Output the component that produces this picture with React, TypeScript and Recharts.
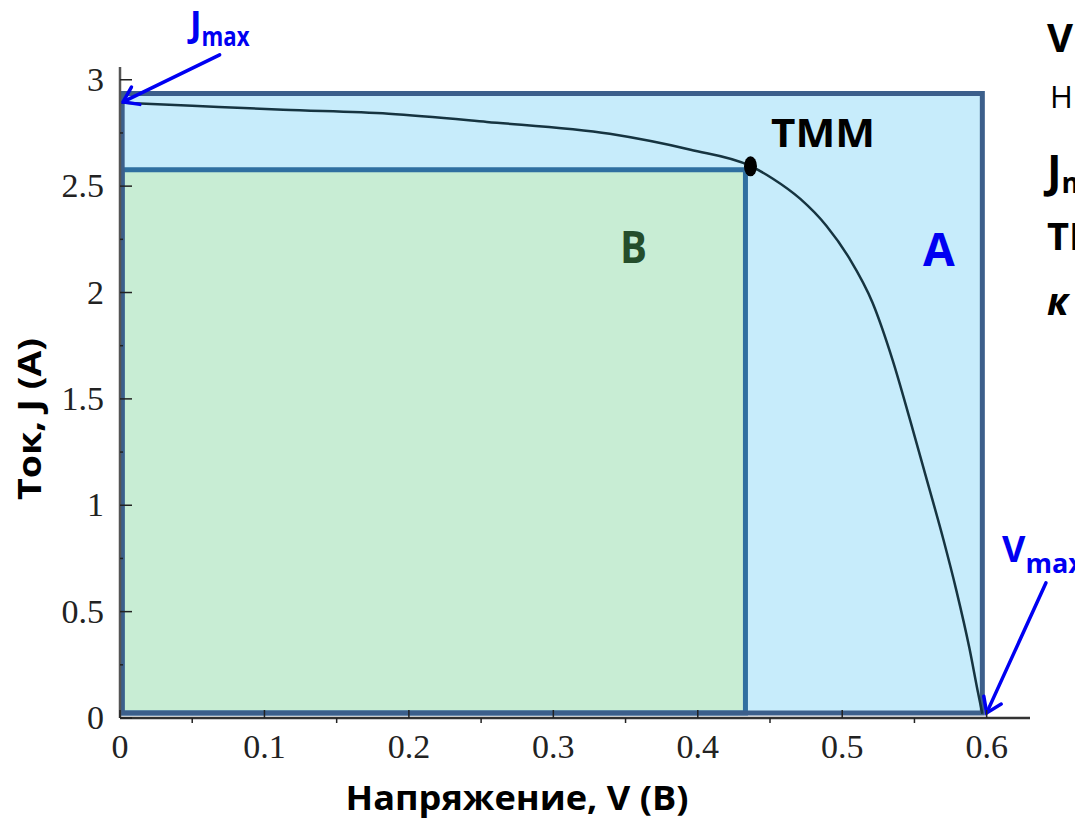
import { LineChart, Line, XAxis, YAxis, ReferenceArea, ReferenceLine, ReferenceDot } from "recharts";

// I–V curve of the cell
const VOLT = [0, 0.05, 0.113, 0.186, 0.254, 0.339, 0.395, 0.436, 0.452, 0.471, 0.489, 0.505, 0.521, 0.535, 0.547, 0.558, 0.57, 0.579, 0.588, 0.594, 0.597];
const CURR = [2.893, 2.878, 2.859, 2.84, 2.802, 2.746, 2.671, 2.596, 2.535, 2.44, 2.314, 2.16, 1.952, 1.68, 1.4, 1.133, 0.84, 0.6, 0.33, 0.12, 0.02];

// rectangles A (Jmax x Vmax) and B (maximum power)
const BOX_A = { v1: 0.0015, v2: 0.597, j1: 0.024, j2: 2.936 };
const BOX_B = { v1: 0.0015, v2: 0.433, j1: 0.024, j2: 2.577 };
const MPP = { v: 0.4365, j: 2.593 };

// arrows: [tail, tip]
const ARROW_J = [{ x: 0.069, y: 3.117 }, { x: 0.0021, y: 2.896 }];
const ARROW_V = [{ x: 0.641, y: 0.635 }, { x: 0.6, y: 0.024 }];

const XTICKS = [0, 0.05, 0.1, 0.15, 0.2, 0.25, 0.3, 0.35, 0.4, 0.45, 0.5, 0.55, 0.6];
const YTICKS = [0, 0.25, 0.5, 0.75, 1, 1.25, 1.5, 1.75, 2, 2.25, 2.5, 2.75, 3];

const data = VOLT.map((v, i) => ({ v, j: CURR[i] }));

const SERIF = "'Liberation Serif', 'DejaVu Serif', serif";
const SANS = "'Open Sans', 'Noto Sans', sans-serif";
const BLUE = "#0000f2";

const isStep = (v: number, step: number) => Math.abs(v / step - Math.round(v / step)) < 1e-6;

function XTick(props: any) {
  const { x, y, payload } = props;
  const major = isStep(payload.value, 0.1);
  return (
    <g>
      <line x1={x} x2={x} y1={y} y2={major ? y - 8 : y + 5} stroke="#222" strokeWidth={1.5} />
      {major && (
        <text x={x} y={y + 40} textAnchor="middle" fontFamily={SERIF} fontSize={34} fill="#222">
          {String(payload.value)}
        </text>
      )}
    </g>
  );
}

function YTick(props: any) {
  const { x, y, payload } = props;
  const major = isStep(payload.value, 0.5);
  return (
    <g>
      <line x1={x} x2={x + (major ? 12 : 3)} y1={y} y2={y} stroke="#222" strokeWidth={1.5} />
      {major && (
        <text x={x - 16} y={y + 11} textAnchor="end" fontFamily={SERIF} fontSize={34} fill="#222">
          {String(payload.value)}
        </text>
      )}
    </g>
  );
}

function Arrow(props: any) {
  const { x1, y1, x2, y2 } = props;
  const a = Math.atan2(y1 - y2, x1 - x2);
  const L = 17;
  const s = 0.6;
  return (
    <g stroke={BLUE} strokeWidth={3.5} strokeLinecap="round" fill="none">
      <line x1={x1} y1={y1} x2={x2} y2={y2} />
      <polyline
        points={`${x2 + L * Math.cos(a + s)},${y2 + L * Math.sin(a + s)} ${x2},${y2} ${x2 + L * Math.cos(a - s)},${y2 + L * Math.sin(a - s)}`}
      />
    </g>
  );
}

function MppDot(props: any) {
  return <ellipse cx={props.cx} cy={props.cy} rx={6.5} ry={10} fill="#000" />;
}

// labels drawn over the plot
function Annotations() {
  return (
    <svg width={1075} height={821} style={{ position: "absolute", left: 0, top: 0, pointerEvents: "none" }}>
      <text x={190} y={37} fontFamily={SANS} fontWeight={700} fill={BLUE} fontSize={35}>
        J
        <tspan fontSize={27} dy={9} textLength={48} lengthAdjust="spacingAndGlyphs">max</tspan>
      </text>
      <text x={1002} y={562} fontFamily={SANS} fontWeight={700} fill={BLUE} fontSize={36}>
        V
        <tspan fontSize={27} dy={11}>max</tspan>
      </text>
      <text x={771} y={147} fontFamily={SANS} fontWeight={700} fill="#000" fontSize={40} textLength={104} lengthAdjust="spacingAndGlyphs">
        ТММ
      </text>
      <text x={620} y={263} fontFamily={SANS} fontWeight={700} fill="#254d2b" fontSize={45} textLength={27} lengthAdjust="spacingAndGlyphs">
        B
      </text>
      <text x={923} y={266} fontFamily={SANS} fontWeight={700} fill={BLUE} fontSize={46}>
        A
      </text>

      <text x={1047} y={52} fontFamily={SANS} fontWeight={700} fill="#000" fontSize={40}>Vmax</text>
      <text x={1050} y={108} fontFamily={SANS} fill="#000" fontSize={31}>Н</text>
      <text x={1047} y={187} fontFamily={SANS} fontWeight={700} fill="#000" fontSize={44}>
        J<tspan fontSize={28} dy={6}>max</tspan>
      </text>
      <text x={1047} y={250} fontFamily={SANS} fontWeight={700} fill="#000" fontSize={38}>ТММ</text>
      <text x={1047} y={315} fontFamily={SANS} fontWeight={700} fontStyle="italic" fill="#000" fontSize={38}>к</text>

      <text x={517} y={810} textAnchor="middle" fontFamily={SANS} fontWeight={700} fill="#000" fontSize={34} textLength={343} lengthAdjust="spacingAndGlyphs">
        Напряжение, V (В)
      </text>
      <text transform="translate(41, 419) rotate(-90)" textAnchor="middle" fontFamily={SANS} fontWeight={700} fill="#000" fontSize={33} textLength={162} lengthAdjust="spacingAndGlyphs">
        Ток, J (А)
      </text>
    </svg>
  );
}

export default function App() {
  return (
    <div style={{ position: "absolute", left: 0, top: 0, width: 1075, height: 821, background: "#fff" }}>
      <LineChart width={1075} height={821} data={data} margin={{ top: 67, right: 45, left: 0, bottom: 0 }}>
        <XAxis
          type="number"
          dataKey="v"
          domain={[0, 0.63]}
          ticks={XTICKS}
          interval={0}
          height={103}
          tickSize={0}
          tickMargin={0}
          tick={<XTick />}
          axisLine={{ stroke: "#333", strokeWidth: 2.5 }}
        />
        <YAxis
          type="number"
          domain={[0, 3.06]}
          ticks={YTICKS}
          interval={0}
          width={120}
          tickSize={0}
          tickMargin={0}
          tick={<YTick />}
          axisLine={{ stroke: "#555", strokeWidth: 2.5 }}
        />
        <ReferenceArea x1={BOX_A.v1} x2={BOX_A.v2} y1={BOX_A.j1} y2={BOX_A.j2} fill="#c7ecfb" fillOpacity={1} stroke="none" ifOverflow="visible" />
        <ReferenceArea x1={BOX_B.v1} x2={BOX_B.v2} y1={BOX_B.j1} y2={BOX_B.j2} fill="#c8edd4" fillOpacity={1} stroke="#2f6fa0" strokeWidth={5} ifOverflow="visible" />
        <ReferenceArea x1={BOX_A.v1} x2={BOX_A.v2} y1={BOX_A.j1} y2={BOX_A.j2} fill="none" fillOpacity={0} stroke="#3c5f8b" strokeWidth={5} ifOverflow="visible" />
        <Line type="monotone" dataKey="j" stroke="#163440" strokeWidth={2.5} dot={false} isAnimationActive={false} />
        <ReferenceDot x={MPP.v} y={MPP.j} shape={<MppDot />} ifOverflow="visible" />
        <ReferenceLine segment={ARROW_J} ifOverflow="visible" shape={<Arrow />} />
        <ReferenceLine segment={ARROW_V} ifOverflow="visible" shape={<Arrow />} />
      </LineChart>
      <Annotations />
    </div>
  );
}
